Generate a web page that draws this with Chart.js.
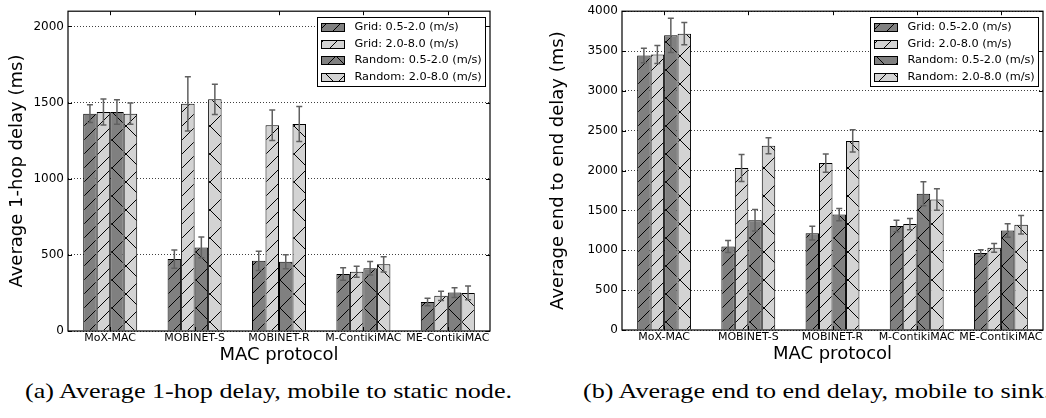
<!DOCTYPE html>
<html>
<head>
<meta charset="utf-8">
<script src="https://cdn.jsdelivr.net/npm/chart.js@4/dist/chart.umd.min.js"></script>
<style>
  body { margin: 0; background: #fff; width: 1046px; height: 418px; overflow: hidden; position: relative; }
  .box { position: absolute; top: 0; }
  .cap { position: absolute; top: 381px; font-family: "Liberation Serif", "Times New Roman", serif; font-size: 21px; line-height: 21px;
         white-space: nowrap; transform-origin: 0 0; color: #000; }
</style>
</head>
<body>
<div class="box" style="left:0;width:540px;height:370px"><canvas id="hopChart"></canvas></div>
<div class="box" style="left:540px;width:506px;height:370px"><canvas id="e2eChart"></canvas></div>
<div class="cap" id="capA" style="left:25px">(a) Average 1-hop delay, mobile to static node.</div>
<div class="cap" id="capB" style="left:583px">(b) Average end to end delay, mobile to sink.</div>

<script>
const categories = ["MoX-MAC", "MOBINET-S", "MOBINET-R", "M-ContikiMAC", "ME-ContikiMAC"];
const seriesNames = ["Grid: 0.5-2.0 (m/s)", "Grid: 2.0-8.0 (m/s)", "Random: 0.5-2.0 (m/s)", "Random: 2.0-8.0 (m/s)"];

// (a) average 1-hop delay (ms)
const hopGridSlow = [1427, 472, 461, 374, 190];
const hopGridFast = [1438, 1492, 1351, 389, 231];
const hopRandSlow = [1438, 549, 455, 412, 252];
const hopRandFast = [1427, 1521, 1359, 438, 250];
const hopErrGridSlow = [58, 60, 63, 41, 25];
const hopErrGridFast = [85, 178, 100, 36, 30];
const hopErrRandSlow = [80, 68, 46, 45, 32];
const hopErrRandFast = [70, 100, 115, 50, 45];
const hopTicks = [0, 500, 1000, 1500, 2000];

// (b) average end to end delay (ms)
const e2eGridSlow = [3444, 1047, 1215, 1305, 965];
const e2eGridFast = [3456, 2033, 2094, 1329, 1031];
const e2eRandSlow = [3697, 1378, 1448, 1710, 1248];
const e2eRandFast = [3718, 2311, 2372, 1636, 1321];
const e2eErrGridSlow = [90, 75, 86, 73, 43];
const e2eErrGridFast = [113, 170, 115, 70, 55];
const e2eErrRandSlow = [215, 135, 77, 150, 85];
const e2eErrRandFast = [140, 100, 140, 135, 117];
const e2eTicks = [0, 500, 1000, 1500, 2000, 2500, 3000, 3500, 4000];

Chart.defaults.font.family = "DejaVu Sans";
Chart.defaults.color = "#000";

const DARK = "#808080";
const LIGHT = "#d3d3d3";

// hatch tiles: "/" is dense, "x" is twice as sparse
function hatch(bg, kind) {
  const s = kind === "x" ? 28 : 14;
  const c = document.createElement("canvas");
  c.width = c.height = s;
  const g = c.getContext("2d");
  g.fillStyle = bg;
  g.fillRect(0, 0, s, s);
  g.strokeStyle = "#000";
  g.lineWidth = 1;
  g.beginPath();
  g.moveTo(-1, s + 1); g.lineTo(s + 1, -1);
  g.moveTo(-1, 1); g.lineTo(1, -1);
  g.moveTo(s - 1, s + 1); g.lineTo(s + 1, s - 1);
  if (kind === "x") {
    g.moveTo(-1, -1); g.lineTo(s + 1, s + 1);
    g.moveTo(s - 1, -1); g.lineTo(s + 1, 1);
    g.moveTo(-1, s - 1); g.lineTo(1, s + 1);
  }
  g.stroke();
  return g.createPattern(c, "repeat");
}

const fills = [hatch(DARK, "/"), hatch(LIGHT, "/"), hatch(DARK, "x"), hatch(LIGHT, "x")];

// frame, inward ticks, error bars and boxed legend
const extras = {
  id: "extras",
  afterDatasetsDraw(chart) {
    const ctx = chart.ctx;
    const y = chart.scales.y;
    ctx.save();
    ctx.strokeStyle = "#606060";
    ctx.lineWidth = 1.5;
    chart.data.datasets.forEach((ds, di) => {
      chart.getDatasetMeta(di).data.forEach((bar, i) => {
        const hi = y.getPixelForValue(ds.data[i] + ds.err[i]);
        const lo = y.getPixelForValue(ds.data[i] - ds.err[i]);
        ctx.beginPath();
        ctx.moveTo(bar.x, hi); ctx.lineTo(bar.x, lo);
        ctx.moveTo(bar.x - 3, hi); ctx.lineTo(bar.x + 3, hi);
        ctx.moveTo(bar.x - 3, lo); ctx.lineTo(bar.x + 3, lo);
        ctx.stroke();
      });
    });
    ctx.restore();
  },
  afterDraw(chart) {
    const ctx = chart.ctx;
    const a = chart.chartArea;
    const x = chart.scales.x;
    const y = chart.scales.y;
    ctx.save();
    ctx.strokeStyle = "#000";
    ctx.lineWidth = 1.2;
    ctx.strokeRect(a.left, a.top, a.right - a.left, a.bottom - a.top);
    ctx.lineWidth = 1;
    ctx.beginPath();
    categories.forEach((c, i) => {
      const px = Math.round(x.getPixelForTick(i)) + 0.5;
      ctx.moveTo(px, a.bottom); ctx.lineTo(px, a.bottom - 4);
      ctx.moveTo(px, a.top); ctx.lineTo(px, a.top + 4);
    });
    chart.options.yTicks.forEach(v => {
      const py = Math.round(y.getPixelForValue(v)) + 0.5;
      ctx.moveTo(a.left, py); ctx.lineTo(a.left + 4, py);
      ctx.moveTo(a.right, py); ctx.lineTo(a.right - 4, py);
    });
    ctx.stroke();

    // legend
    const bw = 168, bh = 69;
    const bx = Math.round(a.right - 5 - bw) + 0.5;
    const by = Math.round(a.top + 6) + 0.5;
    ctx.fillStyle = "#fff";
    ctx.fillRect(bx, by, bw, bh);
    ctx.strokeRect(bx, by, bw, bh);
    ctx.font = "11.3px 'DejaVu Sans'";
    ctx.textBaseline = "middle";
    chart.data.datasets.forEach((ds, i) => {
      const cy = by + 9.5 + i * 16.7;
      ctx.fillStyle = ds.backgroundColor;
      ctx.fillRect(bx + 4, Math.round(cy - 4), 23, 8);
      ctx.strokeRect(bx + 4, Math.round(cy - 4) + 0.5, 23, 8);
      ctx.fillStyle = "#000";
      ctx.fillText(ds.label, bx + 37, cy);
    });
    ctx.restore();
  }
};

function makeChart(id, series, errs, yMax, yTicks, yTitle, yWidth, pad, titlePad) {
  return new Chart(document.getElementById(id), {
    type: "bar",
    data: {
      labels: categories,
      datasets: series.map((s, i) => ({
        label: seriesNames[i],
        data: s,
        err: errs[i],
        backgroundColor: fills[i],
        borderColor: "#000",
        borderWidth: 1,
        barPercentage: 1.0,
        categoryPercentage: 0.64,
      })),
    },
    options: {
      responsive: true,
      maintainAspectRatio: false,
      animation: false,
      yTicks: yTicks,
      layout: { padding: pad },
      plugins: { legend: { display: false }, tooltip: { enabled: false } },
      scales: {
        x: {
          grid: { display: false, drawTicks: false },
          border: { display: false },
          ticks: { autoSkip: false, maxRotation: 0, minRotation: 0, padding: 1, font: { size: 11 } },
          title: { display: true, text: "MAC protocol", font: { size: 18 }, padding: { top: 0, bottom: 4 } },
          afterFit: s => { s.height = 39; },
        },
        y: {
          min: 0,
          max: yMax,
          afterBuildTicks: s => { s.ticks = yTicks.map(v => ({ value: v })); },
          grid: { color: "rgba(0,0,0,0.75)", lineWidth: 1, drawTicks: false },
          border: { display: false, dash: [1, 2] },
          ticks: { padding: 4, font: { size: 12 }, callback: v => String(v) },
          title: { display: true, text: yTitle, font: { size: 18 }, padding: { top: titlePad, bottom: 0 } },
          afterFit: s => { s.width = yWidth; },
        },
      },
    },
    plugins: [extras],
  });
}

makeChart("hopChart",
  [hopGridSlow, hopGridFast, hopRandSlow, hopRandFast],
  [hopErrGridSlow, hopErrGridFast, hopErrRandSlow, hopErrRandFast],
  2100, hopTicks, "Average 1-hop delay (ms)", 68,
  { left: 0, top: 3, right: 50, bottom: 0 }, 7);

makeChart("e2eChart",
  [e2eGridSlow, e2eGridFast, e2eRandSlow, e2eRandFast],
  [e2eErrGridSlow, e2eErrGridFast, e2eErrRandSlow, e2eErrRandFast],
  4000, e2eTicks, "Average end to end delay (ms)", 82,
  { left: 0, top: 4, right: 3, bottom: 1 }, 8);

// stretch the serif captions to the width of the original typesetting
const capA = document.getElementById("capA");
const k = 487 / capA.getBoundingClientRect().width;
capA.style.transform = "scaleX(" + k + ")";
document.getElementById("capB").style.transform = "scaleX(" + k + ")";
</script>
</body>
</html>
